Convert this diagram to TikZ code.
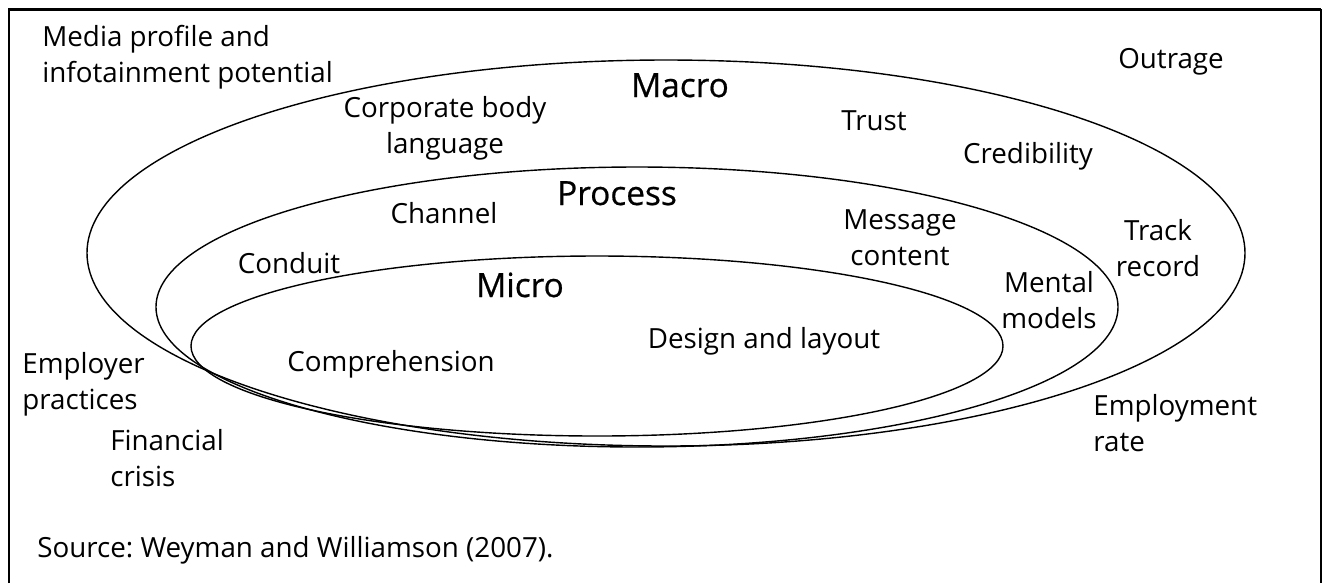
\documentclass[tikz,border=0pt]{standalone}
\usepackage{fontspec}
\setmainfont{Open Sans}
\newfontfamily\headfont[FakeBold=0.6]{Open Sans}
\frenchspacing

\begin{document}
\begin{tikzpicture}
 [
  x=0.02cm, y=-0.02cm,
  txt/.style  = {inner sep = 0pt, align = center, font = \fontsize{15.8}{20.5}\selectfont},
  head/.style = {inner sep = 0pt, anchor = base, font = \headfont\fontsize{19}{23}\selectfont},
  ring/.style = {line width = .8pt},
 ]
 \def \px {0.02cm}
 \useasboundingbox (0,0) rectangle (1322,583);

 % frame, open at the bottom
 \draw[line width = 1.7pt] (9,583) -- (9,9) -- (1321,9);
 \draw[line width = .7pt] (1321,9) -- (1321,583);

 % macro, process and micro rings
 \draw[ring] (666,253) ellipse [x radius = 579*\px, y radius = 193*\px];
 \draw[ring] (637,307) ellipse [x radius = 481*\px, y radius = 140*\px];
 \draw[ring] (597,346) ellipse [x radius = 406*\px, y radius = 90*\px];

 \node[head] (macro)   at (680,97)  {Macro};
 \node[head] (process) at (617,205) {Process};
 \node[head] (micro)   at (520,297) {Micro};

 % single line labels
 \node[txt, anchor = base] (outrage) at (1171,68)  {Outrage};
 \node[txt, anchor = base] (trust)   at (874,130)  {Trust};
 \node[txt, anchor = base] (cred)    at (1028,163) {Credibility};
 \node[txt, anchor = base] (channel) at (444,223)  {Channel};
 \node[txt, anchor = base] (conduit) at (289,273)  {Conduit};
 \node[txt, anchor = base] (design)  at (764,348)  {Design and layout};
 \node[txt, anchor = base] (compr)   at (391,371)  {Comprehension};

 % two line labels
 \node[txt] (corporate) at (445,128)  {Corporate body\\language};
 \node[txt] (message)   at (900,238)  {Message\\content};
 \node[txt] (track)     at (1158,248) {Track\\record};
 \node[txt] (mental)    at (1049,300) {Mental\\models};
 \node[txt, align = left, anchor = west] (media)      at (42,57)   {Media profile and\\infotainment potential};
 \node[txt, align = left, anchor = west] (employer)   at (22,384)  {Employer\\practices};
 \node[txt, align = left, anchor = west] (crisis)     at (110,458) {Financial\\crisis};
 \node[txt, align = left, anchor = west] (employment) at (1093,423) {Employment\\rate};

 \node[txt, anchor = base west] (source) at (37,557) {Source: Weyman and Williamson (2007).};
\end{tikzpicture}
\end{document}
